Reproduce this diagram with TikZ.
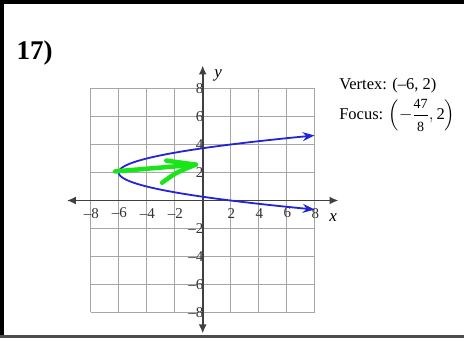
\documentclass[tikz,border=0pt]{standalone}
\usepackage{amsmath}
\usepackage{fontspec}
\setmainfont{Liberation Serif}
\usepackage{tikz}
\usetikzlibrary{arrows.meta,positioning}
\definecolor{curveBlue}{RGB}{35,35,215}
\definecolor{markGreen}{RGB}{25,230,25}
\newcommand{\fracDigits}[1]{\hbox{\fontsize{14}{14}\selectfont #1}}
\tikzset{
  graphGrid/.style={draw=black!35, line width=1.2pt},
  graphAxis/.style={draw=black!75, line width=1.8pt, {Latex[length=9pt,width=8pt]}-{Latex[length=9pt,width=8pt]}},
  graphCurve/.style={draw=curveBlue, line width=1.8pt, {Stealth[length=12pt,width=9pt]}-{Stealth[length=12pt,width=9pt]}},
  graphMark/.style={draw=markGreen, line width=4.5pt, line cap=round, line join=round},
  tickLabel/.style={font=\fontsize{15}{15}\selectfont, text=black!80, inner sep=0.5pt},
  axisName/.style={font=\fontsize{17}{17}\selectfont\itshape, inner sep=0pt},
  infoText/.style={font=\fontsize{16.5}{18}\selectfont, anchor=base west, inner sep=0pt}
}

\begin{document}
\begin{tikzpicture}[x=14pt, y=14pt]
  \useasboundingbox (-14.479,-9.821) rectangle (18.664,14.321);
  % frame edges of the scan
  \fill[black] (-14.479,14.04) rectangle (18.664,14.321);
  \fill[black] (-14.479,-9.821) rectangle (-14.19,14.321);
  \fill[black!70] (-14.479,-9.821) rectangle (18.664,-9.64);

  \node[font=\fontsize{27}{27}\selectfont\bfseries, anchor=west, inner sep=0pt] (problemNo) at (-13.3,10.54) {17)};

  % grid
  \draw[graphGrid] (-8,-8) grid[step=2] (8,8);

  % tick labels
  \foreach \v in {-8,-6,-4,-2,2,4,6,8}{
    \node[tickLabel] (xTick\v) at (\v+0.05,-0.9) {\ifnum\v<0 –\fi\the\numexpr\ifnum\v<0 -\fi\v\relax};
    \node[tickLabel, anchor=east] (yTick\v) at (0.1,\v) {\ifnum\v<0 –\fi\the\numexpr\ifnum\v<0 -\fi\v\relax};
  }

  % axes
  \coordinate (xLeft) at (-9.7,0);
  \coordinate (xRight) at (9.7,0);
  \coordinate (yTop) at (0,9.65);
  \coordinate (yBottom) at (0,-9.5);
  \draw[graphAxis] (xLeft) -- (xRight);
  \draw[graphAxis] (yBottom) -- (yTop);
  \node[axisName] (xName) at (9.31,-1.2) {x};
  \node[axisName] (yName) at (1.1,8.95) {y};

  % parabola x = 2(y-2)^2 - 6
  \draw[graphCurve] plot[domain=-0.6458:4.6458, samples=80, smooth, variable=\t] ({2*(\t-2)^2-6},\t);

  % hand drawn arrow
  \coordinate (markStart) at (-6.25,2.08);
  \coordinate (markTip) at (-0.5,2.56);
  \coordinate (markUp) at (-2.6,2.85);
  \coordinate (markLow) at (-2.9,1.27);
  \draw[graphMark] (markStart) -- (markTip);
  \draw[graphMark] (markUp) -- (markTip);
  \draw[graphMark] (markLow) .. controls (-1.9,2.0) .. (markTip);

  \node[infoText] (vertexInfo) at (9.74,7.96) {Vertex: (–6, 2)};
  \node[infoText] (focusInfo) at (9.74,5.75) {Focus: $\Bigl(-\dfrac{\fracDigits{47}}{\fracDigits{8}},\hbox{2}\Bigr)$};
\end{tikzpicture}
\end{document}
